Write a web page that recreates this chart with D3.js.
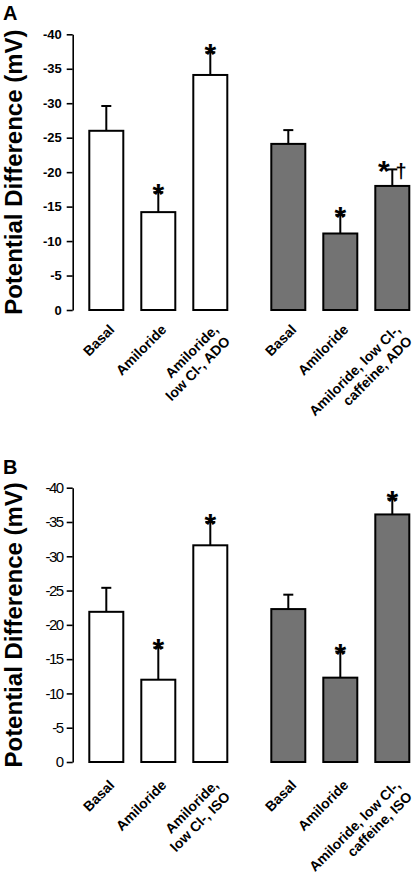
<!DOCTYPE html>
<html><head><meta charset="utf-8">
<script src="https://cdn.jsdelivr.net/npm/d3@7"></script>
<style>html,body{margin:0;padding:0;background:#fff;}svg{display:block;}</style>
</head><body>
<svg id="c" width="415" height="881"></svg>
<script>
// ---- data ----
const categoriesA = [["Basal"],["Amiloride"],["Amiloride,","low Cl-, ADO"],["Basal"],["Amiloride"],["Amiloride, low Cl-,","caffeine, ADO"]];
const categoriesB = [["Basal"],["Amiloride"],["Amiloride,","low Cl-, ISO"],["Basal"],["Amiloride"],["Amiloride, low Cl-,","caffeine, ISO"]];
const groupOf = ["open","open","open","filled","filled","filled"];
const slots = [0,1,2,3.5,4.5,5.5];
const meanA = [-26.0,-14.2,-34.1,-24.1,-11.1,-18.0];
const semA  = [3.6,2.9,3.3,2.0,2.7,2.4];
const marksA = ["","*","*","","*","*†"];
const meanB = [-21.9,-12.0,-31.6,-22.3,-12.3,-36.1];
const semB  = [3.5,4.7,3.4,2.1,3.8,2.3];
const marksB = ["","*","*","","*","*"];
const yTicks = [0,-5,-10,-15,-20,-25,-30,-35,-40];
const yTitle = "Potential Difference (mV)";

const svg = d3.select("#c");
svg.append("rect").attr("width",415).attr("height",881).attr("fill","#fff");
const FONT = "Arial, 'Liberation Sans', Helvetica, sans-serif";

function panel(cfg){
  const g = svg.append("g");
  const y = d3.scaleLinear().domain([0,-40]).range([cfg.y0, cfg.y1]);
  const x = d3.scaleLinear().domain([0,5.5]).range([106.3,392.3]);
  const bw = 34;
  g.append("text").attr("x",3).attr("y",cfg.y1-14).text(cfg.letter)
    .attr("font-family",FONT).attr("font-weight","bold").attr("font-size",20);
  g.append("text").attr("transform",`translate(22,${(cfg.y0+cfg.y1)/2}) rotate(-90)`)
    .attr("text-anchor","middle").text(yTitle)
    .attr("font-family",FONT).attr("font-weight","bold").attr("font-size",24);
  const ax = g.append("g").attr("transform","translate(72.7,0)")
    .call(d3.axisLeft(y).tickValues(yTicks).tickFormat(d=>String(d)).tickSize(6).tickSizeOuter(0).tickPadding(cfg.tickPad));
  ax.select(".domain").attr("stroke","#000").attr("stroke-width",1.6);
  ax.selectAll(".tick line").attr("stroke","#000").attr("stroke-width",1.6);
  ax.selectAll(".tick text").attr("font-family",FONT).attr("fill","#000")
    .attr("font-weight",cfg.tickBold?"bold":"normal").attr("font-size",cfg.tickSize)
    .attr("letter-spacing",cfg.tickLS);
  const data = cfg.mean.map((m,i)=>({m, s:cfg.sem[i], slot:slots[i], grp:groupOf[i], lab:cfg.cats[i], mk:cfg.marks[i]}));
  g.selectAll("rect.bar").data(data).join("rect").attr("class","bar")
    .attr("x",d=>x(d.slot)-bw/2).attr("width",bw)
    .attr("y",d=>y(d.m)).attr("height",d=>y(0)-y(d.m))
    .attr("fill",d=>d.grp==="open"?"#fff":"#737373")
    .attr("stroke","#000").attr("stroke-width",2);
  g.selectAll("line.eb").data(data).join("line").attr("class","eb")
    .attr("x1",d=>x(d.slot)).attr("x2",d=>x(d.slot))
    .attr("y1",d=>y(d.m)).attr("y2",d=>y(d.m-d.s))
    .attr("stroke","#000").attr("stroke-width",2);
  g.selectAll("line.cap").data(data).join("line").attr("class","cap")
    .attr("x1",d=>x(d.slot)-5).attr("x2",d=>x(d.slot)+5)
    .attr("y1",d=>y(d.m-d.s)).attr("y2",d=>y(d.m-d.s))
    .attr("stroke","#000").attr("stroke-width",2);
  const mk = g.selectAll("text.mk").data(data.filter(d=>d.mk)).join("text").attr("class","mk")
    .attr("x",d=>x(d.slot)).attr("y",d=>y(d.m-d.s)+12)
    .attr("text-anchor","middle").attr("font-family",FONT).attr("font-weight","bold");
  mk.each(function(d){
    const t = d3.select(this);
    t.append("tspan").attr("font-size",30).text("*");
    if (d.mk.length>1){
      t.append("tspan").attr("font-size",20).attr("dx",6).attr("dy",-3).text(d.mk.slice(1));
    }
  });
  const lab = g.selectAll("text.xl").data(data).join("text").attr("class","xl")
    .attr("transform",d=>`translate(${x(d.slot)+cfg.lx},${y(0)+cfg.ly}) rotate(-45)`)
    .attr("text-anchor","end").attr("font-family",FONT).attr("font-weight","bold").attr("font-size",14);
  lab.each(function(d){
    const t = d3.select(this);
    d.lab.forEach((s,i)=>{
      t.append("tspan").attr("x",0).attr("y",i*16.5).text(s);
    });
  });
}

panel({letter:"A", y0:310, y1:34.3, mean:meanA, sem:semA, marks:marksA, cats:categoriesA, tickBold:true, tickSize:13, tickLS:0, tickPad:5, lx:9, ly:20.5});
panel({letter:"B", y0:762, y1:487.7, mean:meanB, sem:semB, marks:marksB, cats:categoriesB, tickBold:false, tickSize:15, tickLS:-1.5, tickPad:4, lx:9, ly:24});
</script>
</body></html>
